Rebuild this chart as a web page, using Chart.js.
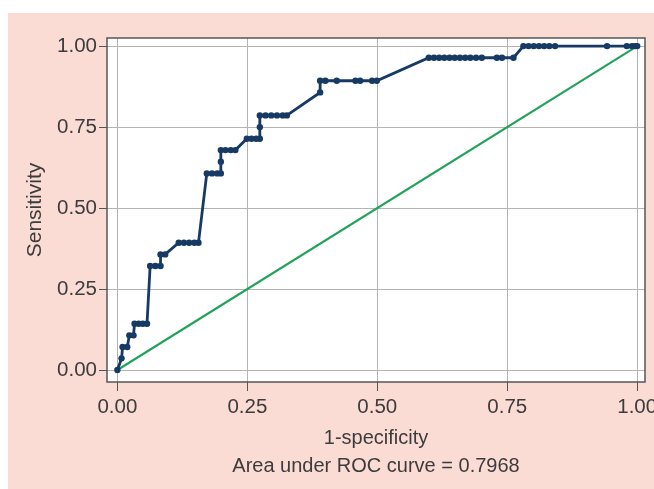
<!doctype html>
<html>
<head>
    <title>ROC</title>
    <script src="https://cdn.jsdelivr.net/npm/chart.js@4/dist/chart.umd.min.js"></script>
    <style>
        body { margin:0; background:#fff; }
        #panel { position:absolute; left:8px; top:13px; width:646px; height:476px; background:#fadcd5; }
    </style>
</head>
<body>
    <div id="panel"><canvas id="canvas" width="646" height="476"></canvas></div>
    <script>
        // 1-specificity and sensitivity
        var fpr = [0, 0.008, 0.010, 0.019, 0.023, 0.031, 0.033, 0.041, 0.049, 0.057,
                   0.063, 0.073, 0.083, 0.083, 0.092, 0.118, 0.128, 0.138, 0.148, 0.156,
                   0.172, 0.182, 0.192, 0.199, 0.199, 0.199, 0.208, 0.218, 0.227, 0.249,
                   0.258, 0.267, 0.274, 0.274, 0.274, 0.285, 0.296, 0.307, 0.318, 0.326,
                   0.390, 0.390, 0.400, 0.422, 0.458, 0.467, 0.490, 0.499,
                   0.599, 0.609, 0.619, 0.629, 0.639, 0.649, 0.659, 0.669, 0.679, 0.690, 0.701,
                   0.730, 0.740, 0.762,
                   0.781, 0.791, 0.801, 0.811, 0.821, 0.831, 0.842, 0.942, 0.980, 0.990, 0.996, 1.000];
        var sens = [0, 0.036, 0.071, 0.071, 0.107, 0.107, 0.143, 0.143, 0.143, 0.143,
                    0.321, 0.321, 0.321, 0.357, 0.357, 0.393, 0.393, 0.393, 0.393, 0.393,
                    0.607, 0.607, 0.607, 0.607, 0.643, 0.679, 0.679, 0.679, 0.679, 0.714,
                    0.714, 0.714, 0.714, 0.750, 0.786, 0.786, 0.786, 0.786, 0.786, 0.786,
                    0.857, 0.893, 0.893, 0.893, 0.893, 0.893, 0.893, 0.893,
                    0.964, 0.964, 0.964, 0.964, 0.964, 0.964, 0.964, 0.964, 0.964, 0.964, 0.964,
                    0.964, 0.964, 0.964,
                    1, 1, 1, 1, 1, 1, 1, 1, 1, 1, 1, 1];
        var refX = [0, 1];
        var refY = [0, 1];
        var tickVals = [0, 0.25, 0.5, 0.75, 1];
        var xTitle = ['1-specificity', 'Area under ROC curve = 0.7968'];
        var yTitle = 'Sensitivity';

        var txt = '#3c3c3c';
        var fam = 'Liberation Sans, Arial';

        var frame = {
            id: 'frame',
            beforeDraw: function(chart) {
                var a = chart.chartArea, c = chart.ctx;
                c.save();
                c.fillStyle = '#fff';
                c.fillRect(a.left, a.top, a.right - a.left, a.bottom - a.top);
                c.restore();
            },
            afterDatasetsDraw: function(chart) {
                var a = chart.chartArea, c = chart.ctx;
                c.save();
                c.strokeStyle = '#555';
                c.lineWidth = 1.5;
                c.strokeRect(a.left, a.top, a.right - a.left, a.bottom - a.top);
                c.restore();
            }
        };

        function setTicks(scale) {
            scale.ticks = tickVals.map(function(v) { return { value: v }; });
        }

        var roc = {
            type: 'scatter',
            data: {
                datasets: [{
                    data: fpr.map(function(x, i) { return { x: x, y: sens[i] }; }),
                    showLine: true, borderColor: '#163a63', backgroundColor: '#163a63',
                    borderWidth: 2.8, pointRadius: 3.2, pointBorderWidth: 0
                }, {
                    data: refX.map(function(x, i) { return { x: x, y: refY[i] }; }),
                    showLine: true, borderColor: '#22a35a', borderWidth: 2.2, pointRadius: 0
                }]
            },
            plugins: [frame],
            options: {
                responsive: false, animation: false,
                layout: { padding: { top: 25, right: 9, left: 0, bottom: 0 } },
                plugins: { legend: { display: false }, tooltip: { enabled: false } },
                scales: {
                    x: {
                        type: 'linear', min: -0.02, max: 1.015,
                        afterBuildTicks: setTicks,
                        afterFit: function(s) { s.height = 107; s.paddingLeft = 0; s.paddingRight = 0; },
                        grid: { color: '#b4b4b4', tickColor: '#555', tickLength: 9 },
                        border: { display: false },
                        ticks: { color: txt, font: { family: fam, size: 20.5 }, padding: 4, maxRotation: 0,
                                 callback: function(v) { return v.toFixed(2); } },
                        title: { display: true, text: xTitle, color: txt,
                                 font: { family: fam, size: 20, lineHeight: 1.4 },
                                 padding: { top: 0, bottom: 9 } }
                    },
                    y: {
                        type: 'linear', min: -0.037, max: 1.025,
                        afterBuildTicks: setTicks,
                        afterFit: function(s) { s.width = 99; s.paddingTop = 0; s.paddingBottom = 0; },
                        grid: { color: '#b4b4b4', tickColor: '#555', tickLength: 8 },
                        border: { display: false },
                        ticks: { color: txt, font: { family: fam, size: 20.5 }, padding: 2,
                                 callback: function(v) { return v.toFixed(2); } },
                        title: { display: true, text: yTitle, color: txt,
                                 font: { family: fam, size: 21 },
                                 padding: { top: 15, bottom: 0 } }
                    }
                }
            }
        };

        window.onload = function() {
            var ctx = document.getElementById('canvas').getContext('2d');
            window.myChart = new Chart(ctx, roc);
        };
    </script>
</body>
</html>
